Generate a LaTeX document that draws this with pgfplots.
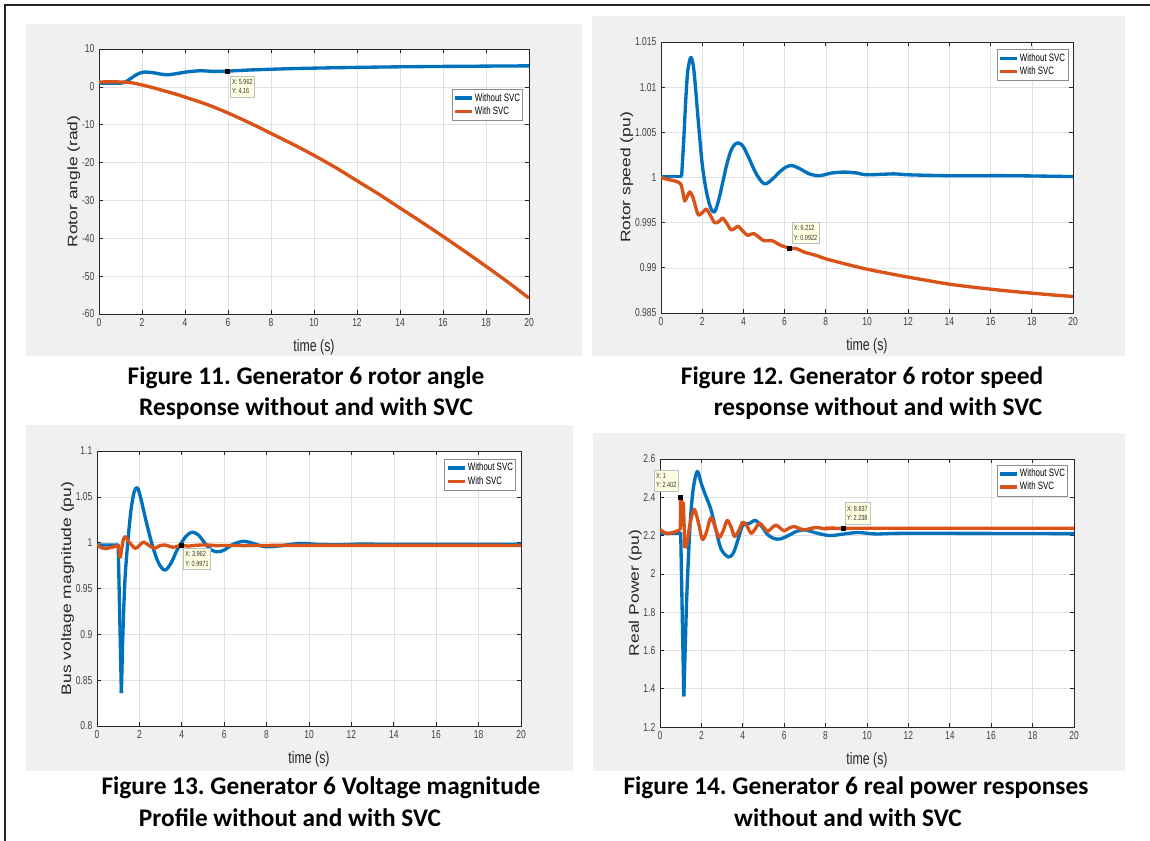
\documentclass[border=0pt]{standalone}
\usepackage{fontspec}
\setmainfont{Liberation Sans}
\newfontfamily\narrowfont{Liberation Sans}[FakeStretch=0.74]
\newfontfamily\tallfont{Liberation Sans}[FakeStretch=1.27]
\newfontfamily\capfont{Carlito}
\usepackage{pgfplots}
\pgfplotsset{compat=1.18}
\frenchspacing

\definecolor{mblue}{HTML}{0072BD}
\definecolor{morange}{HTML}{D95319}
\definecolor{panelgray}{HTML}{F0F0F0}
\definecolor{axgray}{HTML}{262626}
\definecolor{tipfill}{HTML}{FFFFE1}

\tikzset{
  dtip/.style={draw=black!25, fill=tipfill, font=\narrowfont\fontsize{5.6}{7}\selectfont,
    align=left, inner xsep=1.5pt, inner ysep=2.5pt, text=black!80},
}
\pgfplotsset{
  legend image code/.code={\draw[#1,line width=2.5pt] (0cm,0cm) -- (0.45cm,0cm);},
  simfig/.style={
    scale only axis,
    anchor=south west,
    clip mode=individual,
    xmin=0, xmax=20,
    xtick={0,2,4,6,8,10,12,14,16,18,20},
    xticklabels={0,2,4,6,8,10,12,14,16,18,20},
    xtick pos=both, ytick pos=both,
    tick align=inside,
    major tick length=3pt,
    grid=major,
    major grid style={color=black!12, line width=0.4pt},
    axis line style={axgray, line width=0.6pt},
    tick style={axgray, line width=0.5pt},
    axis background/.style={fill=white},
    tick label style={font=\narrowfont\fontsize{8.6}{10}\selectfont, text=black!75},
    xlabel={time (s)},
    xlabel style={font=\narrowfont\fontsize{12.5}{13}\selectfont, text=axgray, yshift=-2.5pt},
    ylabel style={font=\tallfont\fontsize{10.3}{12}\selectfont, text=axgray, yshift=-5.5pt},
    every axis plot/.append style={line width=2.5pt, line join=round},
    legend cell align=left,
    legend style={font=\narrowfont\fontsize{8}{9}\selectfont, draw=black!45,
      fill=white, inner sep=1pt, row sep=-1.5pt, anchor=north east,
      nodes={inner xsep=1pt}},
  },
  tipmark/.style={only marks, mark=square*, mark size=1.5pt, black, line width=0.4pt, forget plot},
}

\begin{document}
\begin{tikzpicture}[x=0.75pt,y=0.75pt]
\useasboundingbox (0,0) rectangle (1150,-841);
\fill[white] (0,0) rectangle (1150,-841);
% gray panels
\fill[panelgray] (26,-24) rectangle (582,-356);
\fill[panelgray] (592,-16) rectangle (1125,-356);
\fill[panelgray] (26,-425) rectangle (573,-771);
\fill[panelgray] (593,-433) rectangle (1125,-771);
% page frame
\draw[line width=1.3pt, black!85] (5,-841) -- (5,-5) -- (1150,-5);

% ---------- Figure 11: rotor angle ----------
\begin{axis}[simfig,
  at={({99*0.75pt},{-314*0.75pt})},
  width=322.5pt, height=198.75pt,
  ymin=-60, ymax=10,
  ytick={-60,-50,-40,-30,-20,-10,0,10},
  yticklabels={-60,-50,-40,-30,-20,-10,0,10},
  ylabel={Rotor angle (rad)},
  legend style={at={(0.986,0.849)}},
]
\addplot[mblue, forget plot] coordinates {(0,1.0) (1.0,1.0)};
\addplot[mblue, smooth, tension=0.5] coordinates {
(1.0,1.0) (1.2,1.2) (1.5,2.3) (1.8,3.4) (2.1,3.9) (2.5,3.75) (2.9,3.35) (3.2,3.2)
(3.6,3.5) (4.1,3.95) (4.7,4.25) (5.3,4.1) (5.962,4.16) (7,4.45) (8,4.65) (9.2,4.85)
(11,5.05) (13.3,5.25) (16,5.4) (20,5.55)};
\addlegendentry{Without SVC}
\addplot[morange, smooth, tension=0.5] coordinates {
(0,1.3) (1.0,1.3) (1.5,1.1) (2,0.5) (2.5,-0.2) (3,-1.0) (3.5,-1.8) (4,-2.7) (5,-4.6)
(6,-6.9) (7,-9.5) (8,-12.3) (9,-15.1) (10,-18.1) (11,-21.3) (12,-24.8) (13,-28.3)
(14,-32.0) (15,-35.7) (16,-39.5) (17,-43.4) (18,-47.4) (19,-51.5) (20,-55.8)};
\addlegendentry{With SVC}
\addplot[tipmark] coordinates {(5.962,4.16)};
\node[dtip, anchor=north west, xshift=2pt, yshift=-3.5pt] at (axis cs:5.962,4.16) {X: 5.962\\Y: 4.16};
\end{axis}

% ---------- Figure 12: rotor speed ----------
\begin{axis}[simfig,
  at={({661*0.75pt},{-313*0.75pt})},
  width=309pt, height=203.25pt,
  ymin=0.985, ymax=1.015,
  ytick={0.985,0.99,0.995,1,1.005,1.01,1.015},
  yticklabels={0.985,0.99,0.995,1,1.005,1.01,1.015},
  ylabel={Rotor speed (pu)},
  legend style={at={(0.988,0.974)}},
]
\addplot[mblue, forget plot] coordinates {(0,1.0001) (1.0,1.0001)};
\addplot[mblue, smooth, tension=0.5] coordinates {
(1.0,1.0001) (1.1,1.004) (1.2,1.0085) (1.3,1.0118) (1.45,1.0133) (1.6,1.0118) (1.8,1.0065)
(2.0,1.0015) (2.2,0.9985) (2.4,0.9967) (2.6,0.9962) (2.8,0.9975) (3.0,0.9995) (3.2,1.0015)
(3.4,1.003) (3.6,1.0037) (3.8,1.0038) (4.0,1.0034) (4.3,1.002) (4.6,1.0005) (4.9,0.9995)
(5.1,0.9993) (5.4,0.9998) (5.8,1.0007) (6.1,1.0012) (6.4,1.0013) (6.8,1.0009) (7.2,1.0004)
(7.7,1.0002) (8.3,1.0005) (8.9,1.0006) (9.5,1.0005) (10,1.0003) (11.3,1.0004) (12,1.0003)
(14,1.0002) (17,1.0002) (20,1.0001)};
\addlegendentry{Without SVC}
\addplot[morange, smooth, tension=0.4] coordinates {
(0,1.0) (0.3,0.9998) (0.7,0.9996) (0.95,0.9993) (1.05,0.9985) (1.15,0.9974) (1.25,0.9978)
(1.4,0.9984) (1.55,0.9978) (1.8,0.9959) (2.0,0.9961) (2.2,0.9965) (2.4,0.9958) (2.6,0.9950)
(2.8,0.9951) (3.0,0.9955) (3.2,0.9949) (3.4,0.9942) (3.6,0.9944) (3.75,0.9946) (4.0,0.9940)
(4.2,0.9936) (4.5,0.9938) (4.75,0.9934) (5.0,0.9930) (5.4,0.9930) (5.8,0.9925) (6.212,0.9922)
(6.6,0.9921) (7,0.9917) (7.5,0.9914) (8,0.9910) (9,0.9904) (10,0.98985) (11,0.9894)
(12,0.98897) (13,0.98857) (14,0.98819) (15,0.9879) (16,0.98764) (17,0.9874) (18,0.9872)
(19,0.9870) (20,0.98683)};
\addlegendentry{With SVC}
\addplot[tipmark] coordinates {(6.212,0.9922)};
\node[dtip, anchor=south west, xshift=2pt, yshift=3pt] at (axis cs:6.212,0.9922) {X: 6.212\\Y: 0.9922};
\end{axis}

% ---------- Figure 13: bus voltage ----------
\begin{axis}[simfig,
  at={({97*0.75pt},{-726*0.75pt})},
  width=318pt, height=206.25pt,
  ymin=0.8, ymax=1.1,
  ytick={0.8,0.85,0.9,0.95,1,1.05,1.1},
  yticklabels={0.8,0.85,0.9,0.95,1,1.05,1.1},
  ylabel={Bus voltage magnitude (pu)},
  legend style={at={(0.988,0.971)}},
]
\addplot[mblue, forget plot] coordinates {(0,0.9975) (1.0,0.9975) (1.15,0.836)};
\addplot[mblue, smooth, tension=0.5] coordinates {
(1.15,0.836) (1.22,0.90) (1.32,0.96) (1.45,1.0) (1.6,1.035) (1.75,1.055) (1.9,1.060)
(2.05,1.05) (2.3,1.025) (2.6,0.998) (2.9,0.978) (3.2,0.970) (3.5,0.978) (3.8,0.993)
(4.2,1.007) (4.5,1.0115) (4.8,1.008) (5.1,0.999) (5.4,0.992) (5.7,0.990) (6.0,0.992)
(6.4,0.998) (6.9,1.0015) (7.4,0.999) (7.8,0.996) (8.2,0.9955) (8.8,0.997) (9.6,0.9992)
(10.5,0.998) (11.5,0.9978) (12.5,0.9985) (14,0.9982) (20,0.9982)};
\addlegendentry{Without SVC}
\addplot[morange, forget plot, smooth, tension=0.5] coordinates {
(0,0.998) (0.2,0.9945) (0.4,0.9935) (0.7,0.995) (0.95,0.9965) (1.0,0.998)};
\addplot[morange, forget plot] coordinates {(1.0,0.998) (1.1,0.983)};
\addplot[morange, smooth, tension=0.5] coordinates {
(1.1,0.983) (1.17,0.994) (1.25,1.004) (1.35,1.0065) (1.5,1.001) (1.8,0.9938) (2.0,0.997)
(2.2,1.0007) (2.45,0.997) (2.7,0.994) (3.0,0.997) (3.2,0.9975) (3.6,0.995) (3.962,0.9971)
(4.3,0.9962) (4.7,0.9972) (5.2,0.9975) (5.6,0.9968) (6.2,0.997) (7,0.9968) (8,0.997)
(20,0.997)};
\addlegendentry{With SVC}
\addplot[tipmark] coordinates {(3.962,0.9971)};
\node[dtip, anchor=north west, xshift=1.5pt, yshift=-2pt] at (axis cs:3.962,0.9971) {X: 3.962\\Y: 0.9971};
\end{axis}

% ---------- Figure 14: real power ----------
\begin{axis}[simfig,
  at={({660*0.75pt},{-727*0.75pt})},
  width=310.5pt, height=201pt,
  ymin=1.2, ymax=2.6,
  ytick={1.2,1.4,1.6,1.8,2,2.2,2.4,2.6},
  yticklabels={1.2,1.4,1.6,1.8,2,2.2,2.4,2.6},
  ylabel={Real Power (pu)},
  legend style={at={(0.9855,0.978)}},
]
\addplot[mblue, forget plot] coordinates {(0,2.212) (1.0,2.212) (1.15,1.36)};
\addplot[mblue, smooth, tension=0.5] coordinates {
(1.15,1.36) (1.22,1.62) (1.3,1.9) (1.45,2.25) (1.6,2.44) (1.8,2.535) (2.0,2.47) (2.2,2.41)
(2.45,2.34) (2.7,2.23) (2.95,2.13) (3.3,2.088) (3.55,2.11) (3.8,2.19) (4.0,2.255)
(4.3,2.262) (4.6,2.279) (4.9,2.25) (5.2,2.205) (5.5,2.185) (5.8,2.182) (6.2,2.2)
(6.6,2.222) (7.0,2.23) (7.5,2.215) (8.2,2.20) (9.0,2.21) (9.6,2.216) (10.5,2.208)
(12,2.212) (20,2.21)};
\addlegendentry{Without SVC}
\addplot[morange, forget plot, smooth, tension=0.5] coordinates {
(0,2.232) (0.15,2.22) (0.35,2.21) (0.6,2.215) (0.98,2.23)};
\addplot[morange, forget plot] coordinates {(0.98,2.23) (1.0,2.402) (1.08,2.37) (1.13,2.37) (1.2,2.135)};
\addplot[morange, smooth, tension=0.5] coordinates {
(1.2,2.135) (1.3,2.16) (1.45,2.26) (1.65,2.337) (1.85,2.27) (2.05,2.18) (2.25,2.22)
(2.45,2.293) (2.65,2.25) (2.85,2.19) (3.05,2.225) (3.25,2.279) (3.45,2.24) (3.6,2.195)
(3.8,2.225) (4.0,2.27) (4.2,2.25) (4.4,2.212) (4.6,2.235) (4.8,2.265) (5.0,2.245)
(5.2,2.222) (5.4,2.24) (5.6,2.255) (5.8,2.24) (6.0,2.225) (6.25,2.24) (6.5,2.247)
(6.75,2.236) (7.0,2.23) (7.3,2.238) (7.6,2.242) (8.0,2.235) (8.4,2.24) (8.837,2.238)
(20,2.238)};
\addlegendentry{With SVC}
\addplot[tipmark] coordinates {(1,2.402) (8.837,2.238)};
\node[dtip, anchor=south east, xshift=-1.5pt, yshift=4pt] at (axis cs:1,2.402) {X: 1\\Y: 2.402};
\node[dtip, anchor=south west, xshift=1.5pt, yshift=3pt] at (axis cs:8.837,2.238) {X: 8.837\\Y: 2.238};
\end{axis}

% captions
\begin{scope}[every node/.style={font=\capfont\bfseries\fontsize{19}{22}\selectfont, anchor=base}]
\node at (306,-385) {Figure 11. Generator 6 rotor angle};
\node at (306,-416) {Response without and with SVC};
\node at (862,-385) {Figure 12. Generator 6 rotor speed};
\node at (878,-416) {response without and with SVC};
\node at (321,-794) {Figure 13. Generator 6 Voltage magnitude};
\node at (290,-826) {Profile without and with SVC};
\node at (856,-794) {Figure 14. Generator 6 real power responses};
\node at (848,-826) {without and with SVC};
\end{scope}
\end{tikzpicture}
\end{document}
